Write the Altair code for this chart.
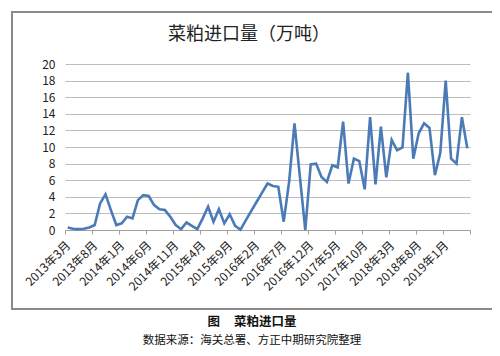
import json
import altair as alt
import pandas as pd

# Monthly rapeseed-meal imports (10k tonnes), 2013-03 .. 2019-05
values = [
    0.3, 0.15, 0.1, 0.15, 0.3, 0.6, 3.2, 4.3, 2.4, 0.6,
    0.8, 1.6, 1.4, 3.6, 4.2, 4.1, 3.0, 2.5, 2.4, 1.6,
    0.6, 0.1, 0.9, 0.5, 0.1, 1.4, 2.8, 1.0, 2.5, 0.8,
    1.9, 0.5, 0.05, 1.2, 2.3, 3.4, 4.5, 5.6, 5.3, 5.2,
    1.0, 5.8, 12.85, 6.4, 0.0, 7.9, 8.0, 6.4, 5.8, 7.8,
    7.55, 13.05, 5.6, 8.6, 8.3, 4.9, 13.6, 5.5, 12.45, 6.35,
    10.85, 9.6, 9.95, 18.95, 8.6, 11.65, 12.85, 12.3, 6.6, 9.3,
    18.0, 8.6, 8.0, 13.6, 9.85,
]
start_year, start_month = 2013, 3
months = []
for k in range(len(values)):
    m = start_month - 1 + k
    months.append(f"{start_year + m // 12}年{m % 12 + 1}月")

tick_labels = ["2013年3月", "2013年8月", "2014年1月", "2014年6月", "2014年11月",
               "2015年4月", "2015年9月", "2016年2月", "2016年7月", "2016年12月",
               "2017年5月", "2017年10月", "2018年3月", "2018年8月", "2019年1月"]
y_ticks = [0, 2, 4, 6, 8, 10, 12, 14, 16, 18, 20]

title_text = "菜粕进口量（万吨）"
caption1 = "图\u00a0\u00a0\u00a0\u00a0\u00a0菜粕进口量"
caption2 = "数据来源：海关总署、方正中期研究院整理"

n = len(values)
df = pd.DataFrame({"month": months, "idx": [k + 0.5 for k in range(n)], "value": values})

label_expr = ("datum.value < %d ? %s[datum.value / 5] : ''"
              % (len(tick_labels) * 5, json.dumps(tick_labels, ensure_ascii=False)))

FONT = "Noto Sans CJK SC"

line = alt.Chart(df).mark_line(color="#4a7ab7", strokeWidth=2.6).encode(
    x=alt.X("idx:Q",
            scale=alt.Scale(domain=[0, n], nice=False, zero=False),
            axis=alt.Axis(values=list(range(0, n + 1, 5)), labelExpr=label_expr,
                          labelAngle=-45, labelAlign="right", labelBaseline="middle",
                          labelPadding=9, labelOffset=3, tickSize=4, tickColor="#a0a0a0",
                          domainColor="#a0a0a0", grid=False, title=None,
                          labelFont=FONT, labelFontSize=12, labelColor="#222",
                          labelOverlap=False, labelBound=False, labelFlush=False)),
    y=alt.Y("value:Q",
            scale=alt.Scale(domain=[0, 20], nice=False),
            axis=alt.Axis(values=y_ticks, grid=True, gridColor="#bdbdbd", domain=False,
                          ticks=False, labelPadding=10, title=None,
                          labelFont=FONT, labelFontSize=12, labelColor="#222")),
)

frame = alt.Chart(df).mark_rect(fill="transparent", stroke="#8a8a8a", strokeWidth=1.2).encode(
    x=alt.value(-53), x2=alt.value(428), y=alt.value(-52), y2=alt.value(245)
)

title_df = pd.DataFrame({"t": [title_text]})
cap_df1 = pd.DataFrame({"t": [caption1]})
cap_df2 = pd.DataFrame({"t": [caption2]})
title = alt.Chart(title_df).mark_text(font=FONT, fontSize=18, color="#222",
                                      align="center", baseline="middle").encode(
    text="t:N", x=alt.value(184), y=alt.value(-29))
cap1 = alt.Chart(cap_df1).mark_text(font=FONT, fontSize=12.5, fontWeight="bold", color="#111",
                                    align="center", baseline="middle").encode(
    text="t:N", x=alt.value(187), y=alt.value(258))
cap2 = alt.Chart(cap_df2).mark_text(font=FONT, fontSize=11.5, color="#111",
                                    align="center", baseline="middle").encode(
    text="t:N", x=alt.value(187), y=alt.value(277))

chart = alt.layer(frame, line, title, cap1, cap2).properties(
    width=405, height=166,
    autosize=alt.AutoSizeParams(type="none"),
    padding={"left": 57, "top": 56, "right": 22, "bottom": 118},
).configure_view(stroke=None)

chart.save("out.html", embed_options={"renderer": "svg", "actions": False})
